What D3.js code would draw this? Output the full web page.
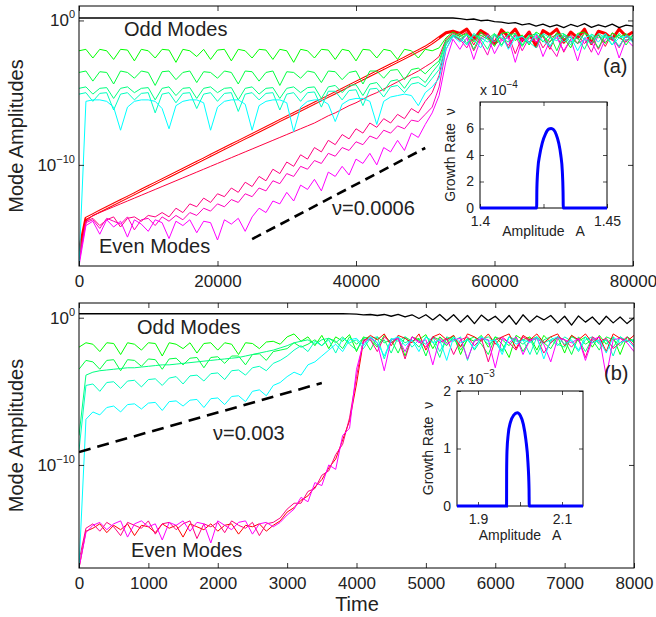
<!DOCTYPE html>
<html>
<head>
<meta charset="utf-8">
<script src="https://cdn.jsdelivr.net/npm/d3@7"></script>
<style>
body { margin: 0; background: #fff; }
text { font-family: "Liberation Sans", Arial, Helvetica, sans-serif; fill: #222; }
</style>
</head>
<body>
<svg id="fig" width="656" height="617"></svg>
<script>
// values are log10 of the mode amplitude, one per sample of the time grid

// ---- panel (a): t = 0 .. 80000, step 1000
var timeA = d3.range(0, 80001, 1000);
var aBlack = [0.17,0.17,0.17,0.17,0.17,0.17,0.17,0.17,0.17,0.17,
  0.17,0.17,0.17,0.17,0.17,0.17,0.17,0.17,0.17,0.17,
  0.17,0.17,0.17,0.17,0.17,0.17,0.17,0.17,0.17,0.17,
  0.17,0.17,0.17,0.17,0.17,0.17,0.17,0.17,0.17,0.17,
  0.17,0.17,0.17,0.17,0.17,0.17,0.17,0.17,0.17,0.17,
  0.17,0.17,0.17,0.17,0.17,0.12,0.05,0.1,-0.02,0.02,
  -0.08,-0.12,-0.2,-0.15,-0.3,-0.22,-0.4,-0.25,-0.45,-0.3,
  -0.5,-0.28,-0.42,-0.22,-0.48,-0.3,-0.45,-0.25,-0.5,-0.32,
  -0.4];
var aGreen1 = [-2.1,-2.0,-2.6,-2.0,-2.1,-2.7,-2.0,-2.05,-2.8,-2.0,
  -2.1,-2.6,-2.0,-2.05,-2.9,-2.0,-2.1,-2.5,-2.0,-2.7,
  -2.05,-2.0,-2.8,-2.0,-2.1,-2.6,-2.0,-2.05,-2.7,-2.0,
  -2.1,-2.9,-2.0,-2.1,-2.6,-2.0,-2.05,-2.7,-2.0,-2.1,
  -2.8,-2.0,-2.05,-2.6,-2.0,-2.1,-2.7,-2.0,-2.1,-2.6,
  -2.0,-2.1,-1.9,-1.2,-0.8,-1.1,-0.9,-1.5,-0.8,-1.2,
  -1.8,-0.9,-0.8,-1.4,-1.0,-1.7,-0.8,-1.1,-1.5,-0.85,
  -1.2,-1.9,-0.9,-0.8,-1.3,-1.0,-1.6,-0.85,-1.2,-0.9,
  -1.4];
var aGreen2 = [-3.6,-3.5,-4.2,-3.55,-3.6,-4.4,-3.5,-3.6,-4.0,-3.5,
  -3.6,-4.5,-3.55,-3.5,-4.1,-3.6,-3.5,-4.3,-3.55,-3.6,
  -4.0,-3.5,-3.6,-4.4,-3.5,-3.55,-4.2,-3.6,-3.5,-4.5,
  -3.55,-3.6,-4.0,-3.5,-3.6,-4.3,-3.5,-3.55,-4.1,-3.6,
  -3.5,-4.4,-3.5,-3.5,-4.0,-3.45,-3.4,-4.1,-3.4,-3.3,
  -3.7,-3.2,-2.8,-1.4,-1.0,-1.3,-0.95,-2.0,-1.0,-1.3,
  -0.9,-1.7,-1.0,-0.9,-1.8,-1.1,-0.9,-1.5,-1.0,-2.1,
  -0.95,-1.2,-1.6,-0.9,-1.1,-1.9,-0.95,-1.3,-1.0,-1.7,
  -1.0];
var aTeal = [-4.7,-4.6,-5.1,-4.7,-4.65,-5.4,-4.7,-4.6,-5.0,-4.7,
  -4.65,-5.5,-4.7,-4.6,-5.2,-4.7,-4.65,-5.4,-4.7,-4.6,
  -5.0,-4.7,-4.65,-5.5,-4.7,-4.6,-5.1,-4.7,-4.65,-5.4,
  -4.7,-4.6,-5.0,-4.65,-4.6,-5.4,-4.6,-4.5,-5.0,-4.5,
  -4.45,-5.2,-4.4,-4.3,-4.9,-4.2,-4.1,-4.7,-4.0,-3.9,
  -4.3,-3.6,-3.0,-1.5,-1.1,-0.9,-1.6,-1.0,-1.3,-2.0,
  -0.95,-1.2,-1.5,-0.9,-1.7,-1.0,-1.3,-0.95,-1.8,-1.0,
  -0.9,-1.5,-1.2,-2.0,-0.95,-1.2,-1.1,-1.7,-0.9,-1.4,
  -1.0];
var aTeal2 = [-5.1,-5.0,-5.6,-5.05,-5.0,-6.2,-5.1,-5.0,-5.5,-5.05,
  -5.0,-6.4,-5.1,-5.0,-5.7,-5.05,-5.0,-6.1,-5.1,-5.0,
  -5.6,-5.05,-5.0,-6.3,-5.1,-5.0,-5.5,-5.05,-5.0,-6.2,
  -5.1,-5.0,-5.6,-5.0,-4.95,-6.0,-4.9,-4.9,-5.5,-4.85,
  -4.8,-5.9,-4.75,-4.7,-5.3,-4.6,-4.5,-5.0,-4.4,-4.3,
  -4.6,-4.0,-3.4,-1.7,-1.0,-1.2,-1.7,-0.9,-1.2,-1.5,
  -1.0,-1.8,-0.95,-1.3,-1.1,-1.5,-1.9,-0.9,-1.2,-1.4,
  -1.0,-1.7,-0.95,-1.3,-1.6,-0.9,-1.2,-1.1,-1.8,-1.0,
  -1.3];
var aCyan = [-17,-5.6,-5.5,-5.5,-5.6,-6.0,-7.6,-6.0,-5.6,-5.5,
  -5.5,-5.6,-6.1,-7.5,-5.9,-5.6,-5.5,-5.5,-5.7,-7.6,
  -6.0,-5.6,-5.5,-5.5,-5.8,-7.6,-5.9,-5.6,-5.5,-5.5,
  -5.7,-7.7,-6.0,-5.6,-5.5,-5.5,-5.8,-7.0,-5.8,-5.5,
  -5.4,-5.4,-5.6,-7.2,-5.6,-5.3,-5.2,-5.1,-5.2,-5.9,
  -5.0,-4.6,-4.0,-2.0,-1.1,-1.5,-1.0,-1.3,-1.9,-1.0,
  -1.5,-0.95,-2.0,-1.2,-1.1,-1.6,-0.9,-1.4,-1.8,-1.0,
  -1.5,-1.1,-2.1,-1.2,-1.0,-1.5,-0.9,-1.7,-1.2,-1.1,
  -1.5];
var aRed1 = [-16,-13.7,-13.45,-13.2,-12.96,-12.72,-12.48,-12.24,-12.0,-11.75,
  -11.51,-11.27,-11.03,-10.79,-10.55,-10.31,-10.07,-9.83,-9.59,-9.34,
  -9.1,-8.86,-8.62,-8.38,-8.14,-7.9,-7.66,-7.42,-7.18,-6.93,
  -6.69,-6.45,-6.21,-5.97,-5.73,-5.49,-5.25,-5.01,-4.77,-4.52,
  -4.28,-4.04,-3.8,-3.56,-3.32,-3.08,-2.84,-2.6,-2.35,-2.1,
  -1.85,-1.55,-1.2,-0.85,-0.75,-0.9,-0.6,-1.3,-0.7,-1.0,
  -1.6,-0.65,-1.1,-0.6,-1.4,-0.8,-1.8,-0.7,-1.0,-0.6,
  -1.5,-0.8,-1.2,-0.6,-1.6,-0.75,-0.9,-1.3,-0.6,-1.1,
  -0.8];
var aRed2 = [-16.5,-13.9,-13.5,-13.3,-13.1,-12.9,-12.7,-12.5,-12.3,-12.1,
  -11.9,-11.7,-11.5,-11.3,-11.1,-10.9,-10.7,-10.5,-10.3,-10.1,
  -9.9,-9.7,-9.5,-9.3,-9.1,-8.9,-8.7,-8.5,-8.3,-8.1,
  -7.9,-7.7,-7.5,-7.3,-7.1,-6.85,-6.6,-6.4,-6.15,-5.9,
  -5.7,-5.45,-5.2,-5.0,-4.75,-4.5,-4.25,-4.0,-3.75,-3.5,
  -3.2,-2.9,-2.5,-1.3,-0.9,-1.1,-0.8,-1.7,-0.85,-1.2,
  -1.4,-0.8,-1.9,-1.0,-1.2,-0.8,-1.5,-1.1,-2.0,-0.9,
  -1.3,-1.0,-1.6,-0.8,-1.4,-1.0,-1.8,-0.9,-1.2,-1.5,
  -1.0];
var aPink1 = [-16.5,-13.9,-13.7,-14.2,-13.8,-13.6,-14.3,-13.7,-13.6,-13.9,
  -13.5,-13.6,-13.3,-13.6,-13.0,-13.3,-12.7,-12.9,-12.3,-12.6,
  -12.0,-12.2,-11.6,-11.9,-11.2,-11.5,-10.8,-11.1,-10.3,-10.6,
  -9.8,-10.1,-9.3,-9.6,-8.8,-9.1,-8.3,-8.6,-7.9,-8.2,
  -7.5,-7.8,-7.1,-7.4,-6.8,-7.1,-6.5,-6.8,-6.1,-6.4,
  -5.6,-5.0,-3.8,-1.6,-1.0,-1.4,-1.0,-2.1,-1.2,-0.9,
  -1.7,-1.3,-1.0,-2.3,-1.1,-1.5,-0.95,-1.9,-1.2,-1.0,
  -2.2,-1.3,-1.0,-1.6,-1.1,-2.0,-1.0,-1.3,-1.8,-1.0,
  -1.5];
var aPink2 = [-16.8,-14.0,-13.8,-14.4,-13.7,-13.9,-14.1,-13.6,-14.5,-13.8,
  -13.7,-14.2,-13.6,-13.9,-13.5,-13.8,-13.3,-13.5,-13.0,-13.2,
  -12.7,-12.9,-12.4,-12.6,-12.0,-12.2,-11.6,-11.8,-11.1,-11.3,
  -10.6,-10.8,-10.1,-10.3,-9.7,-9.9,-9.2,-9.4,-8.8,-9.0,
  -8.4,-8.6,-8.0,-8.2,-7.6,-7.8,-7.3,-7.5,-6.9,-7.0,
  -6.5,-6.0,-4.6,-2.0,-1.1,-1.3,-1.9,-1.0,-1.5,-2.4,
  -1.0,-1.3,-1.7,-1.0,-2.1,-1.2,-1.5,-1.0,-1.8,-2.5,
  -1.1,-1.2,-1.6,-1.3,-2.2,-1.0,-1.5,-1.2,-1.9,-1.0,
  -1.4];
var aMagenta = [-17,-14.2,-13.9,-14.8,-13.8,-14.3,-13.9,-15.0,-13.8,-14.1,
  -14.6,-13.8,-14.0,-15.1,-13.9,-14.2,-13.8,-14.7,-13.9,-14.0,
  -15.2,-13.8,-14.1,-13.7,-14.6,-13.6,-13.0,-13.3,-12.5,-12.7,
  -11.9,-12.5,-11.4,-11.7,-11.0,-11.8,-10.5,-10.8,-10.1,-10.7,
  -9.6,-9.9,-9.2,-10.0,-8.8,-9.1,-8.3,-9.0,-7.8,-8.1,
  -7.2,-6.4,-5.2,-2.8,-1.3,-2.0,-1.2,-2.7,-1.3,-1.1,
  -2.3,-1.4,-1.2,-2.9,-1.3,-1.6,-1.1,-2.5,-1.4,-1.2,
  -2.1,-1.3,-2.8,-1.2,-1.5,-2.4,-1.3,-1.1,-2.6,-1.3,
  -1.8];
var aDashT = [25000, 50000];
var aDashV = [-15.14, -8.83];

// ---- panel (b): t = 0 .. 8000, step 100
var timeB = d3.range(0, 8001, 100);
var bBlack = [0.27,0.27,0.27,0.27,0.27,0.27,0.27,0.27,0.27,0.27,
  0.27,0.27,0.27,0.27,0.27,0.27,0.27,0.27,0.27,0.27,
  0.27,0.27,0.27,0.27,0.27,0.27,0.27,0.27,0.27,0.27,
  0.27,0.27,0.27,0.27,0.27,0.27,0.27,0.27,0.27,0.26,
  0.24,0.2,0.22,0.15,0.22,0.1,0.22,0.05,0.2,-0.05,
  0.2,-0.15,0.22,-0.2,0.2,-0.3,0.15,-0.4,0.18,-0.2,
  0.1,-0.35,0.15,-0.45,0.2,-0.3,0.12,-0.15,0.15,-0.35,
  0.1,-0.5,0.12,-0.3,0.05,-0.45,0.1,-0.35,0.05,-0.4,
  0.0];
var bGreen1 = [-2.0,-1.7,-1.8,-2.3,-1.7,-1.75,-2.5,-1.7,-1.8,-2.2,
  -1.7,-1.75,-2.6,-1.7,-1.8,-2.1,-1.7,-2.4,-1.75,-1.7,
  -2.2,-1.7,-1.8,-2.5,-1.7,-1.75,-2.1,-1.65,-1.6,-1.8,
  -1.3,-1.1,-1.6,-1.3,-1.9,-1.2,-2.1,-1.3,-1.6,-1.15,
  -2.3,-1.3,-1.5,-2.0,-1.2,-1.7,-1.3,-2.6,-1.3,-1.5,
  -1.15,-2.1,-1.3,-1.7,-1.2,-2.5,-1.4,-1.6,-1.2,-2.0,
  -1.3,-1.8,-2.7,-1.2,-1.5,-1.3,-2.2,-1.2,-1.7,-1.3,
  -2.4,-1.2,-1.6,-1.3,-2.0,-1.2,-1.8,-1.3,-2.5,-1.3,
  -1.6];
var bGreen2 = [-3.5,-2.9,-3.0,-3.5,-2.9,-2.85,-3.6,-2.85,-2.9,-3.3,
  -2.8,-2.85,-3.5,-2.8,-2.75,-3.2,-2.75,-2.7,-3.4,-2.7,
  -2.65,-3.1,-2.6,-2.6,-3.2,-2.5,-2.45,-2.9,-2.3,-2.2,
  -2.1,-1.7,-2.0,-1.8,-1.5,-1.9,-1.4,-1.6,-2.1,-1.3,
  -1.8,-1.4,-2.2,-1.3,-1.7,-1.5,-2.4,-1.3,-1.6,-1.4,
  -2.6,-1.3,-1.5,-1.9,-1.3,-2.2,-1.5,-1.3,-1.8,-2.5,
  -1.3,-1.5,-1.9,-1.3,-2.3,-1.5,-1.3,-1.7,-2.1,-1.3,
  -1.5,-2.5,-1.3,-1.8,-1.5,-2.2,-1.3,-1.5,-1.9,-1.3,
  -1.7];
var bTeal = [-8,-3.9,-3.7,-3.6,-3.55,-3.5,-3.45,-3.4,-3.4,-3.35,
  -3.3,-3.25,-3.2,-3.2,-3.15,-3.1,-3.05,-3.0,-2.95,-2.9,
  -2.85,-2.8,-2.75,-2.7,-2.6,-2.5,-2.4,-2.3,-2.2,-2.05,
  -1.9,-1.7,-1.6,-1.5,-1.8,-1.5,-1.4,-1.7,-1.3,-1.8,
  -2.2,-1.4,-1.3,-1.9,-1.5,-2.4,-1.3,-1.7,-1.5,-2.0,
  -1.3,-1.6,-2.7,-1.3,-1.5,-1.9,-1.4,-2.2,-1.5,-1.3,
  -1.7,-2.3,-1.3,-1.5,-1.8,-1.4,-2.5,-1.5,-1.3,-1.8,
  -2.0,-1.3,-1.5,-2.3,-1.4,-1.7,-1.5,-2.0,-1.3,-1.6,
  -1.5];
var bTeal2 = [-9,-4.6,-4.5,-5.0,-4.4,-4.35,-4.8,-4.3,-4.25,-4.7,
  -4.2,-4.15,-4.6,-4.1,-4.0,-4.5,-3.95,-3.9,-4.3,-3.8,
  -3.75,-4.2,-3.6,-3.55,-3.9,-3.4,-3.3,-3.6,-3.1,-2.9,
  -2.6,-2.2,-1.9,-2.3,-1.6,-1.9,-1.5,-2.4,-1.4,-1.7,
  -1.5,-2.1,-1.4,-1.3,-2.8,-1.4,-1.6,-1.3,-2.0,-1.5,
  -1.8,-1.3,-2.3,-1.4,-1.6,-1.3,-2.9,-1.5,-1.3,-1.8,
  -1.5,-2.2,-1.3,-1.6,-1.5,-2.5,-1.3,-1.7,-1.5,-1.9,
  -1.3,-1.6,-2.3,-1.5,-1.3,-1.8,-1.5,-2.6,-1.3,-1.6,
  -1.5];
var bCyan = [-17,-6.9,-6.4,-6.6,-6.1,-6.0,-6.4,-5.9,-5.85,-6.2,
  -5.8,-5.75,-6.3,-5.7,-5.65,-6.0,-5.6,-5.55,-6.1,-5.5,
  -5.45,-5.9,-5.35,-5.3,-5.7,-5.0,-4.9,-5.3,-4.6,-4.4,
  -4.0,-3.7,-3.9,-3.2,-3.0,-2.6,-2.2,-1.8,-2.3,-1.5,
  -1.4,-1.9,-1.3,-1.7,-2.6,-1.5,-1.3,-1.9,-1.5,-2.3,
  -1.3,-1.7,-1.5,-2.9,-1.3,-1.7,-1.5,-2.1,-1.3,-1.6,
  -1.5,-2.5,-1.3,-1.8,-1.5,-1.7,-1.3,-2.8,-1.5,-1.3,
  -1.8,-1.5,-2.2,-1.3,-1.7,-1.5,-2.4,-1.3,-1.7,-1.5,
  -2.0];
var bRed = [-17,-14.5,-14.3,-14.0,-14.6,-14.1,-14.4,-14.0,-14.8,-14.1,
  -14.2,-14.6,-14.0,-14.3,-14.1,-14.9,-14.0,-14.2,-14.4,-14.0,
  -14.5,-14.1,-14.0,-14.7,-14.1,-14.2,-14.0,-14.5,-14.1,-13.8,
  -13.2,-12.9,-12.4,-12.1,-11.5,-11.0,-10.2,-9.6,-8.3,-7.0,
  -4.5,-1.6,-1.2,-1.5,-1.1,-1.9,-1.2,-1.4,-1.7,-1.1,
  -2.2,-1.3,-1.1,-1.5,-1.2,-2.0,-1.1,-1.3,-1.6,-1.1,
  -1.8,-1.3,-1.1,-2.1,-1.2,-1.5,-1.1,-1.7,-1.3,-1.1,
  -1.9,-1.2,-1.5,-1.1,-1.7,-1.3,-2.3,-1.1,-1.4,-1.6,
  -1.2];
var bPink = [-16.5,-14.3,-14.0,-14.5,-13.9,-14.2,-14.8,-13.9,-14.1,-14.3,
  -13.8,-14.7,-14.0,-13.9,-14.4,-14.0,-13.8,-15.0,-14.0,-14.2,
  -13.9,-14.6,-13.8,-14.1,-14.3,-13.9,-14.8,-14.0,-13.9,-13.6,
  -13.0,-12.6,-12.6,-11.8,-11.6,-10.7,-10.4,-9.3,-8.6,-6.8,
  -4.0,-1.5,-1.5,-2.3,-1.3,-1.7,-1.4,-2.8,-1.3,-1.6,
  -2.0,-1.3,-1.7,-1.4,-2.5,-1.5,-1.3,-1.9,-1.4,-3.0,
  -1.5,-1.3,-1.7,-2.2,-1.3,-1.6,-1.4,-2.4,-1.7,-1.3,
  -1.5,-2.0,-1.4,-2.7,-1.3,-1.6,-1.4,-2.1,-1.7,-1.3,
  -1.9];
var bMagenta = [-17,-14.6,-14.1,-13.9,-14.4,-14.0,-13.8,-14.9,-14.0,-13.8,
  -14.2,-14.0,-15.1,-13.9,-14.1,-13.8,-14.5,-13.9,-14.0,-15.3,
  -13.8,-14.1,-14.4,-13.9,-13.8,-14.7,-14.0,-13.9,-14.2,-13.9,
  -13.4,-13.0,-12.2,-12.5,-11.2,-11.4,-10.0,-10.3,-8.0,-7.5,
  -3.5,-1.7,-1.4,-1.7,-3.6,-1.5,-1.4,-2.3,-1.3,-1.7,
  -1.5,-3.2,-1.4,-1.8,-1.5,-1.4,-2.8,-1.6,-1.4,-1.5,
  -3.4,-1.4,-1.7,-1.3,-2.5,-1.5,-1.4,-1.8,-3.0,-1.4,
  -1.5,-1.7,-1.4,-2.9,-1.5,-1.3,-4.0,-1.5,-1.4,-1.7,
  -2.3];
var bDashT = [0, 3500];
var bDashV = [-9.12, -4.43];

// ---- insets: growth rate vs amplitude
var insetA_amp = [1.4,1.4223,1.4224,1.4228,1.4235,1.4245,1.4258,1.427,1.428,1.429,1.43,1.431,1.4318,1.4324,1.4327,1.4328,1.45];
var insetA_rate = [0,0,1.5,3.0,4.0,4.9,5.6,5.95,6.0,5.9,5.55,4.9,4.0,2.8,1.2,0,0]; // x 1e-4
var insetB_amp = [1.85,1.968,1.9682,1.969,1.972,1.977,1.985,1.9935,2.001,2.008,2.014,2.019,2.0215,2.022,2.15];
var insetB_rate = [0,0,0.6,0.95,1.25,1.45,1.58,1.62,1.57,1.42,1.15,0.75,0.3,0,0]; // x 1e-3

var svg = d3.select("#fig");

function supLabel(sel, base, exp, supSize, dy) {
    sel.text(null);
    sel.append("tspan").text(base);
    sel.append("tspan").attr("dy", -dy).attr("font-size", supSize).text(exp);
}

function drawPanel(o) {
    var x = d3.scaleLinear().domain(o.xDomain).range([o.left, o.right]);
    var y = d3.scaleLog().domain([1e-17, 1e1]).range([o.bottom, o.top]);
    var g = svg.append("g");

    svg.append("clipPath").attr("id", "clip" + o.id)
        .append("rect")
        .attr("x", o.left).attr("y", o.top)
        .attr("width", o.right - o.left).attr("height", o.bottom - o.top);

    var plot = g.append("g").attr("clip-path", "url(#clip" + o.id + ")");
    var line = d3.line()
        .defined(function(d) { return d[1] !== undefined; })
        .x(function(d) { return x(d[0]); })
        .y(function(d) { return y(Math.pow(10, d[1])); });

    o.series.forEach(function(s) {
        var pts = o.times.map(function(t, i) { return [t, s.values[i]]; });
        plot.append("path")
            .attr("d", line(pts))
            .attr("fill", "none")
            .attr("stroke", s.color)
            .attr("stroke-width", s.width || 1)
            .attr("stroke-linejoin", "round");
        if (s.double) {
            // thin white core makes the double-stroked line
            plot.append("path")
                .attr("d", line(pts.slice(1, s.double)))
                .attr("fill", "none")
                .attr("stroke", "#fff")
                .attr("stroke-width", 1);
        }
    });

    plot.append("path")
        .attr("d", line(o.dashT.map(function(t, i) { return [t, o.dashV[i]]; })))
        .attr("fill", "none")
        .attr("stroke", "#000")
        .attr("stroke-width", 2.6)
        .attr("stroke-dasharray", o.dash);

    // axes, ticks pointing inward like matlab
    var ax = g.append("g").attr("transform", "translate(0," + o.bottom + ")")
        .call(d3.axisBottom(x).tickValues(o.xTicks).tickSizeInner(-5).tickSizeOuter(0).tickPadding(9).tickFormat(d3.format("d")));
    var axTop = g.append("g").attr("transform", "translate(0," + o.top + ")")
        .call(d3.axisTop(x).tickValues(o.xTicks).tickSizeInner(-5).tickSizeOuter(0).tickFormat(""));
    var ay = g.append("g").attr("transform", "translate(" + o.left + ",0)")
        .call(d3.axisLeft(y).tickValues([1e-10, 1]).tickSizeInner(-5).tickSizeOuter(0).tickPadding(4));
    var ayR = g.append("g").attr("transform", "translate(" + o.right + ",0)")
        .call(d3.axisRight(y).tickValues([1e-10, 1]).tickSizeInner(-5).tickSizeOuter(0).tickFormat(""));

    [ax, axTop, ay, ayR].forEach(function(a) {
        a.select(".domain").remove();
        a.attr("font-family", null).attr("font-size", 17);
        a.selectAll("line").attr("stroke", "#000").attr("stroke-width", 0.8);
        a.selectAll("text").attr("fill", "#222");
    });
    ay.selectAll(".tick text").each(function(d) {
        var e = Math.round(Math.log10(d));
        supLabel(d3.select(this), "10", e === 0 ? "0" : "\u2212" + Math.abs(e), 11, 8);
    });

    g.append("rect")
        .attr("x", o.left).attr("y", o.top)
        .attr("width", o.right - o.left).attr("height", o.bottom - o.top)
        .attr("fill", "none").attr("stroke", "#000").attr("stroke-width", 1);

    g.append("text")
        .attr("transform", "translate(" + o.ylabX + "," + ((o.top + o.bottom) / 2) + ") rotate(-90)")
        .attr("text-anchor", "middle")
        .attr("font-size", 20)
        .text("Mode Amplitudes");

    o.notes.forEach(function(n) {
        g.append("text").attr("x", n[0]).attr("y", n[1]).attr("font-size", 20).text(n[2]);
    });
}

function drawInset(o) {
    var x = d3.scaleLinear().domain(o.xDomain).range([o.left, o.right]);
    var y = d3.scaleLinear().domain(o.yDomain).range([o.bottom, o.top]);
    var g = svg.append("g");

    g.append("rect")
        .attr("x", o.left).attr("y", o.top)
        .attr("width", o.right - o.left).attr("height", o.bottom - o.top)
        .attr("fill", "#fff");

    var axB = g.append("g").attr("transform", "translate(0," + o.bottom + ")")
        .call(d3.axisBottom(x).tickValues(o.xTicks).tickSizeInner(-4).tickSizeOuter(0).tickPadding(8)
            .tickFormat(function(d) { return o.xLabels[o.xTicks.indexOf(d)]; }));
    var axT = g.append("g").attr("transform", "translate(0," + o.top + ")")
        .call(d3.axisTop(x).tickValues(o.xTicks).tickSizeInner(-4).tickSizeOuter(0).tickFormat(""));
    var axL = g.append("g").attr("transform", "translate(" + o.left + ",0)")
        .call(d3.axisLeft(y).tickValues(o.yTicks).tickSizeInner(-4).tickSizeOuter(0).tickPadding(6).tickFormat(d3.format("d")));
    var axR = g.append("g").attr("transform", "translate(" + o.right + ",0)")
        .call(d3.axisRight(y).tickValues(o.yTicks).tickSizeInner(-4).tickSizeOuter(0).tickFormat(""));
    [axB, axT, axL, axR].forEach(function(a) {
        a.select(".domain").remove();
        a.attr("font-family", null).attr("font-size", 14);
        a.selectAll("line").attr("stroke", "#000").attr("stroke-width", 0.7);
        a.selectAll("text").attr("fill", "#222");
    });

    g.append("rect")
        .attr("x", o.left).attr("y", o.top)
        .attr("width", o.right - o.left).attr("height", o.bottom - o.top)
        .attr("fill", "none").attr("stroke", "#000").attr("stroke-width", 1);

    var line = d3.line()
        .x(function(d, i) { return x(o.amp[i]); })
        .y(function(d) { return y(d); })
        .curve(d3.curveMonotoneX);
    g.append("path")
        .attr("d", line(o.rate))
        .attr("fill", "none")
        .attr("stroke", "#0000ff")
        .attr("stroke-width", 3);

    var sc = g.append("text").attr("x", o.left).attr("y", o.top - 7).attr("font-size", 14);
    supLabel(sc, "x 10", "\u2212" + o.exp, 10, 7);

    g.append("text")
        .attr("transform", "translate(" + o.ylabX + "," + ((o.top + o.bottom) / 2) + ") rotate(-90)")
        .attr("text-anchor", "middle")
        .attr("font-size", 14)
        .attr("xml:space", "preserve")
        .text("Growth Rate  \u03bd");
    g.append("text")
        .attr("x", (o.left + o.right) / 2).attr("y", o.xlabY)
        .attr("text-anchor", "middle")
        .attr("font-size", 14)
        .attr("xml:space", "preserve")
        .text("Amplitude   A");
}

var oddColors = ["#00ff00", "#00ff40", "#00ff80", "#00ffbf", "#00ffff"];
var evenColors = ["#ff0000", "#ff0040", "#ff0080", "#ff00bf", "#ff00ff"];

drawPanel({
    id: "a", left: 79, right: 633, top: 6, bottom: 266,
    xDomain: [0, 80000], xTicks: [0, 20000, 40000, 60000, 80000],
    times: timeA, ylabX: 23,
    series: [
        { values: aRed1, color: evenColors[0], width: 3, double: 53 },
        { values: aRed2, color: evenColors[1] },
        { values: aPink1, color: evenColors[2] },
        { values: aPink2, color: evenColors[3] },
        { values: aMagenta, color: evenColors[4] },
        { values: aGreen1, color: oddColors[0] },
        { values: aGreen2, color: oddColors[1] },
        { values: aTeal, color: oddColors[2] },
        { values: aTeal2, color: oddColors[3] },
        { values: aCyan, color: oddColors[4] },
        { values: aBlack, color: "#000", width: 1.3 }
    ],
    dashT: aDashT, dashV: aDashV, dash: "10,6",
    notes: [[124, 36, "Odd Modes"], [99, 253, "Even Modes"], [332, 215, "\u03bd=0.0006"], [603, 73, "(a)"]]
});

drawPanel({
    id: "b", left: 79, right: 634, top: 303, bottom: 568,
    xDomain: [0, 8000], xTicks: d3.range(0, 8001, 1000),
    times: timeB, ylabX: 23,
    series: [
        { values: bGreen1, color: oddColors[0] },
        { values: bGreen2, color: oddColors[1] },
        { values: bTeal, color: oddColors[2] },
        { values: bTeal2, color: oddColors[3] },
        { values: bRed, color: evenColors[0] },
        { values: bPink, color: evenColors[2] },
        { values: bMagenta, color: evenColors[4] },
        { values: bCyan, color: oddColors[4] },
        { values: bBlack, color: "#000", width: 1.3 }
    ],
    dashT: bDashT, dashV: bDashV, dash: "12,7",
    notes: [[137, 334, "Odd Modes"], [131, 557, "Even Modes"], [213, 440, "\u03bd=0.003"], [604, 380, "(b)"]]
});

svg.append("text")
    .attr("x", 357).attr("y", 611)
    .attr("text-anchor", "middle")
    .attr("font-size", 20)
    .text("Time");

drawInset({
    left: 480, right: 607, top: 102, bottom: 208,
    xDomain: [1.4, 1.45], xTicks: [1.4, 1.425, 1.45], xLabels: ["1.4", "", "1.45"],
    yDomain: [0, 8], yTicks: [0, 2, 4, 6],
    amp: insetA_amp, rate: insetA_rate, exp: 4,
    ylabX: 455, xlabY: 236
});

drawInset({
    left: 457, right: 583, top: 391, bottom: 506,
    xDomain: [1.85, 2.15], xTicks: [1.9, 2.0, 2.1], xLabels: ["1.9", "", "2.1"],
    yDomain: [0, 2], yTicks: [0, 1, 2],
    amp: insetB_amp, rate: insetB_rate, exp: 3,
    ylabX: 433, xlabY: 540
});
</script>
</body>
</html>
